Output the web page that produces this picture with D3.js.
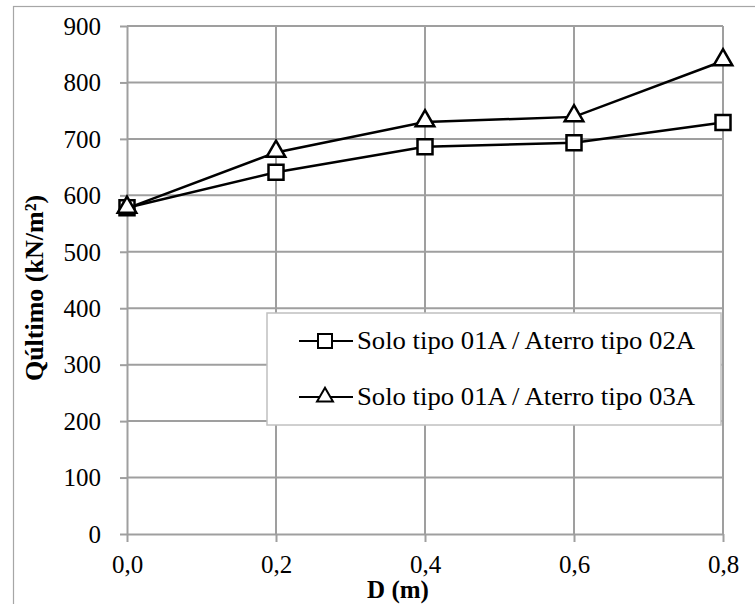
<!DOCTYPE html>
<html>
<head>
<meta charset="utf-8">
<script src="https://cdn.jsdelivr.net/npm/d3@7"></script>
</head>
<body style="margin:0;background:#fff">
<svg id="chart" width="755" height="604"></svg>
<script>
// Depth of embedment (m)
const depths = [0.0, 0.2, 0.4, 0.6, 0.8];
// Ultimate bearing capacity (kN/m²) per fill type
const serie02A = [578, 641, 686, 693, 729];
const serie03A = [577, 676, 730, 739, 838];
const seriesNames = ["Solo tipo 01A / Aterro tipo 02A", "Solo tipo 01A / Aterro tipo 03A"];
const xTicks = [0.0, 0.2, 0.4, 0.6, 0.8];
const yTicks = [0, 100, 200, 300, 400, 500, 600, 700, 800, 900];

(function () {
  const FONT = "Liberation Serif";
  const svg = d3.select("#chart").attr("font-family", FONT);
  const plotL = 127, plotR = 723, plotT = 26, plotB = 534;

  // outer chart frame (runs past the right and bottom edges)
  svg.append("rect")
    .attr("x", 13.5).attr("y", 6.5)
    .attr("width", 760).attr("height", 620)
    .attr("fill", "#fff").attr("stroke", "#a6a6a6").attr("stroke-width", 1.2);

  const x = d3.scaleLinear().domain([0, 0.8]).range([plotL, plotR]);
  const y = d3.scaleLinear().domain([0, 900]).range([plotB, plotT]);

  const grid = "#9f9f9f";

  // gridlines
  svg.append("g").selectAll("line").data(yTicks.filter(d => d > 0)).join("line")
    .attr("x1", plotL).attr("x2", plotR)
    .attr("y1", d => y(d)).attr("y2", d => y(d))
    .attr("stroke", grid).attr("stroke-width", 2);
  svg.append("g").selectAll("line").data(xTicks.filter(d => d > 0)).join("line")
    .attr("x1", d => x(d)).attr("x2", d => x(d))
    .attr("y1", plotT).attr("y2", plotB)
    .attr("stroke", grid).attr("stroke-width", 2);

  // axes
  const yAxis = svg.append("g")
    .attr("transform", `translate(${plotL},0)`)
    .call(d3.axisLeft(y).tickValues(yTicks).tickSize(7).tickSizeOuter(0).tickPadding(19).tickFormat(d3.format("d")));
  const xAxis = svg.append("g")
    .attr("transform", `translate(0,${plotB})`)
    .call(d3.axisBottom(x).tickValues(xTicks).tickSize(8).tickSizeOuter(0).tickPadding(12)
      .tickFormat(d => d.toFixed(1).replace(".", ",")));
  [yAxis, xAxis].forEach(g => {
    g.attr("font-family", FONT).attr("font-size", 25);
    g.select(".domain").attr("stroke", grid).attr("stroke-width", 2);
    g.selectAll(".tick line").attr("stroke", grid).attr("stroke-width", 2);
    g.selectAll(".tick text").attr("fill", "#000").attr("font-family", FONT).attr("font-size", 25);
  });
  yAxis.selectAll(".tick text").attr("dy", "0.33em");
  xAxis.selectAll(".tick text").attr("dy", "0.75em");

  // axis titles
  svg.append("text")
    .attr("transform", `translate(43,${288}) rotate(-90)`)
    .attr("text-anchor", "middle")
    .attr("font-family", FONT).attr("font-size", 26).attr("font-weight", "bold")
    .text("Qúltimo (kN/m²)");
  svg.append("text")
    .attr("x", 398).attr("y", 598)
    .attr("text-anchor", "middle")
    .attr("font-family", FONT).attr("font-size", 25).attr("font-weight", "bold")
    .text("D (m)");

  const line = d3.line().x(d => x(d[0])).y(d => y(d[1]));
  const pts02 = depths.map((d, i) => [d, serie02A[i]]);
  const pts03 = depths.map((d, i) => [d, serie03A[i]]);

  const sq = d3.symbol().type(d3.symbolSquare).size(225);
  const tri = d3.symbol().type(d3.symbolTriangle).size(150);

  function drawSeries(pts, sym, dy) {
    svg.append("path").datum(pts).attr("d", line)
      .attr("fill", "none").attr("stroke", "#000").attr("stroke-width", 2.5);
    svg.append("g").selectAll("path").data(pts).join("path")
      .attr("d", sym)
      .attr("transform", d => `translate(${x(d[0])},${y(d[1]) + dy})`)
      .attr("fill", "#fff").attr("stroke", "#000").attr("stroke-width", 2.5);
  }
  drawSeries(pts02, sq, 0);
  drawSeries(pts03, tri, -1);

  // legend
  const lg = svg.append("g");
  lg.append("rect")
    .attr("x", 267).attr("y", 313).attr("width", 454).attr("height", 112)
    .attr("fill", "#fff").attr("stroke", "#c0c0c0").attr("stroke-width", 1.5);
  const rows = [
    { name: seriesNames[0], sym: d3.symbol().type(d3.symbolSquare).size(196), cy: 341 },
    { name: seriesNames[1], sym: d3.symbol().type(d3.symbolTriangle).size(110), cy: 397 }
  ];
  rows.forEach(r => {
    lg.append("line").attr("x1", 299).attr("x2", 353).attr("y1", r.cy).attr("y2", r.cy)
      .attr("stroke", "#000").attr("stroke-width", 2.2);
    lg.append("path").attr("d", r.sym).attr("transform", `translate(325,${r.cy})`)
      .attr("fill", "#fff").attr("stroke", "#000").attr("stroke-width", 2);
    lg.append("text").attr("x", 357).attr("y", r.cy + 8)
      .attr("font-family", FONT).attr("font-size", 25.5)
      .attr("textLength", 338).attr("lengthAdjust", "spacingAndGlyphs")
      .text(r.name);
  });
})();
</script>
</body>
</html>
